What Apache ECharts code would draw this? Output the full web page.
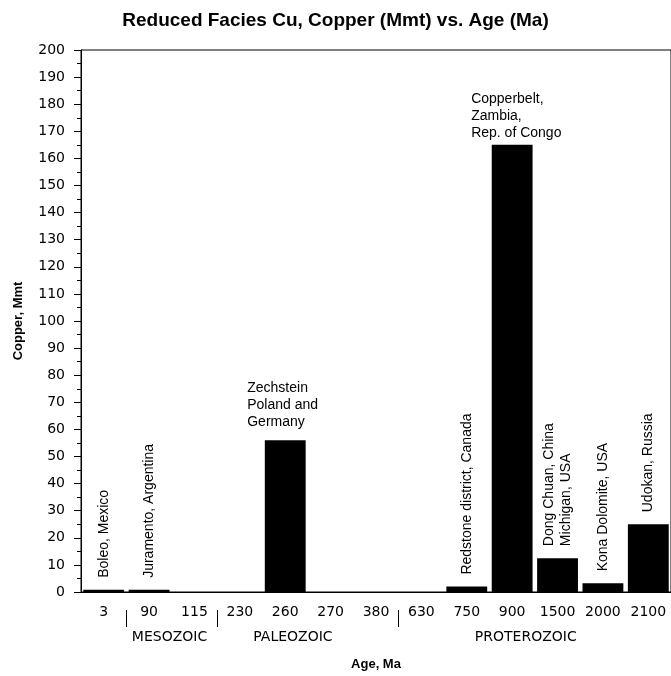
<!DOCTYPE html>
<html>
<head>
<meta charset="utf-8">
<script src="https://cdn.jsdelivr.net/npm/echarts@6/dist/echarts.min.js"></script>
<style>
  html, body { margin: 0; padding: 0; background: #fff; }
  #chart { width: 671px; height: 676px; }
</style>
</head>
<body>
<div id="chart"></div>
<script>
const AGES = ['3', '90', '115', '230', '260', '270', '380', '630', '750', '900', '1500', '2000', '2100'];
const COPPER = [0.8, 0.8, 0, 0, 56, 0, 0, 0, 2, 165, 12.5, 3.2, 25];
const DEPOSITS = [
    'Boleo, Mexico',
    'Juramento, Argentina',
    '', '',
    'Zechstein\nPoland and\nGermany',
    '', '', '',
    'Redstone district, Canada',
    'Copperbelt,\nZambia,\nRep. of Congo',
    'Dong Chuan, China\nMichigan, USA',
    'Kona Dolomite, USA',
    'Udokan, Russia'
];
const Y_TICKS = [0, 200, 10];

// era names sit under the age axis; breaks are category boundaries
const ERA_NAMES = ['MESOZOIC', 'PALEOZOIC', 'PROTEROZOIC'];
const ERA_LABEL_AT = [1.95, 4.67, 9.8];
const ERA_BREAKS = [1, 3, 7];

const chart = echarts.init(document.getElementById('chart'));

// labels written flat above the two tallest bars, the rest stand upright
const flatLabel = {
    4: { offset: [-38, 0], distance: 10 },
    9: { offset: [-41, 0], distance: 3 }
};

const barData = COPPER.map((v, i) => {
    const text = DEPOSITS[i];
    if (!text) return v;
    const flat = flatLabel[i];
    const label = flat ? {
        show: true,
        position: 'top',
        align: 'left',
        verticalAlign: 'bottom',
        offset: flat.offset,
        distance: flat.distance,
        lineHeight: 17,
        formatter: text
    } : {
        show: true,
        position: 'top',
        rotate: 90,
        align: 'left',
        verticalAlign: 'middle',
        distance: 12,
        lineHeight: 17,
        formatter: text
    };
    return { value: v, label: label };
});

const option = {
    animation: false,
    title: {
        text: 'Reduced Facies Cu, Copper (Mmt) vs. Age (Ma)',
        left: 'center',
        top: 6,
        textStyle: {
            fontFamily: 'Liberation Sans',
            fontSize: 19,
            fontWeight: 'bold',
            color: '#000'
        }
    },
    grid: {
        left: 81,
        top: 50,
        width: 593,
        height: 545,
        show: true,
        borderColor: '#000',
        borderWidth: 1
    },
    xAxis: [{
        type: 'category',
        data: AGES,
        name: 'Age, Ma',
        nameLocation: 'middle',
        nameGap: 66,
        nameTextStyle: {
            fontFamily: 'Liberation Sans',
            fontSize: 13,
            fontWeight: 'bold',
            color: '#000'
        },
        axisLine: { lineStyle: { color: '#000', width: 1 } },
        axisTick: { length: 4, lineStyle: { color: '#000' } },
        axisLabel: {
            margin: 13,
            fontFamily: 'DejaVu Sans',
            fontSize: 14,
            color: '#000',
            interval: 0
        }
    }, {
        type: 'value',
        min: 0,
        max: AGES.length,
        position: 'bottom',
        offset: 18,
        axisLine: { show: false },
        splitLine: { show: false },
        axisTick: {
            customValues: ERA_BREAKS,
            length: 17,
            lineStyle: { color: '#000', width: 1 }
        },
        axisLabel: {
            customValues: ERA_LABEL_AT,
            margin: 20,
            fontFamily: 'DejaVu Sans',
            fontSize: 14,
            color: '#000',
            formatter: v => ERA_NAMES[ERA_LABEL_AT.indexOf(v)] || ''
        }
    }],
    yAxis: {
        type: 'value',
        min: Y_TICKS[0],
        max: Y_TICKS[1],
        interval: Y_TICKS[2],
        name: 'Copper, Mmt',
        nameLocation: 'middle',
        nameGap: 56,
        nameTextStyle: {
            fontFamily: 'Liberation Sans',
            fontSize: 13,
            fontWeight: 'bold',
            color: '#000'
        },
        axisLine: { show: true, lineStyle: { color: '#000', width: 1 } },
        axisTick: { show: true, length: 7, lineStyle: { color: '#000' } },
        minorTick: { show: true, splitNumber: 2, length: 4, lineStyle: { color: '#000' } },
        splitLine: { show: false },
        axisLabel: {
            margin: 16,
            fontFamily: 'DejaVu Sans',
            fontSize: 14,
            color: '#000'
        }
    },
    series: [{
        type: 'bar',
        data: barData,
        barCategoryGap: '10%',
        itemStyle: { color: '#000' },
        label: {
            fontFamily: 'Liberation Sans',
            fontSize: 14,
            color: '#000'
        }
    }]
};

chart.setOption(option);
</script>
</body>
</html>
